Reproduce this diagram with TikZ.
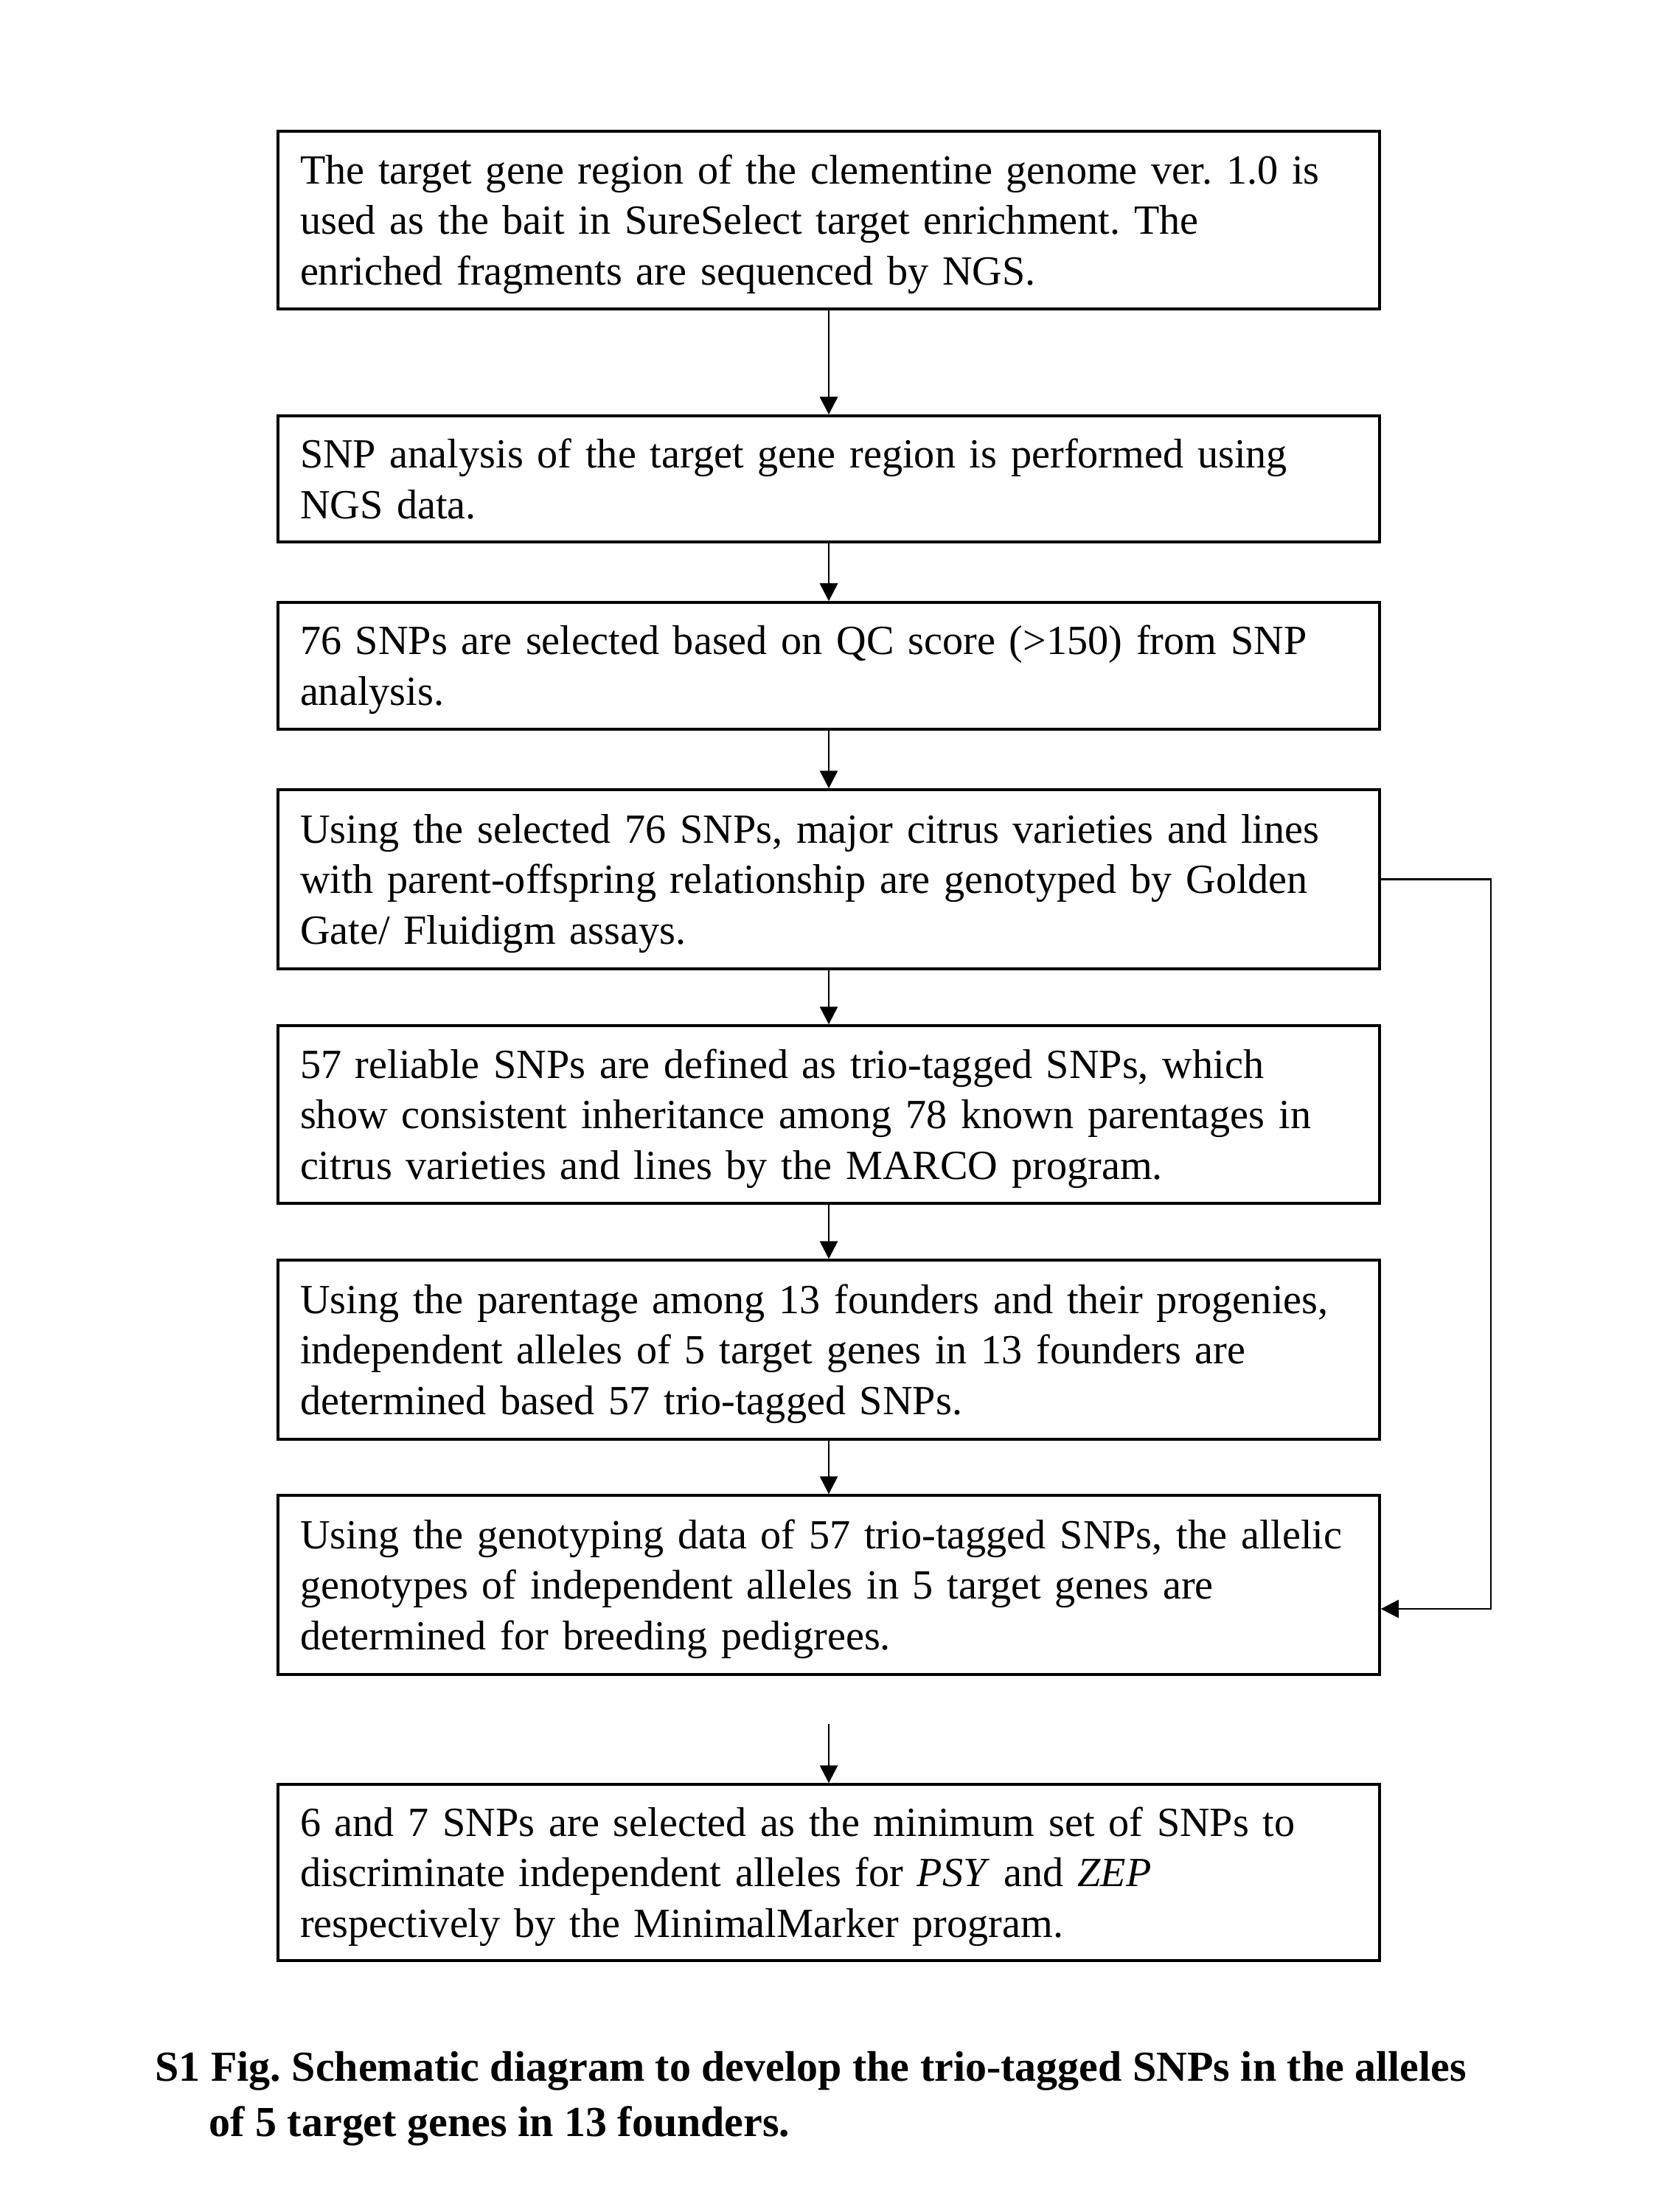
\documentclass[tikz,border=0pt]{standalone}
\usepackage{fontspec}
\setmainfont{Liberation Serif}
\usetikzlibrary{arrows.meta}

\tikzset{
  stepbox/.style={draw, line width=1pt, text width=14.34cm, inner xsep=0.3cm,
    inner ysep=0pt, align=left,
    execute at begin node={\frenchspacing\rule{0pt}{0.91em}},
    execute at end node={\rule[-0.22em]{0pt}{0pt}}},
  flow/.style={->, line width=0.8pt}
}

\begin{document}
\begin{tikzpicture}[>={Triangle[length=2.4mm, width=2.4mm]},
    font=\fontsize{16}{19.6}\selectfont]
  \useasboundingbox (0,0) rectangle (22.5,-30);
  \node[stepbox, minimum height=2.41cm] (b1) at (11.24,-2.985)
    {The target gene region of the clementine genome ver. 1.0 is\\
     used as the bait in SureSelect target enrichment. The\\
     enriched fragments are sequenced by NGS.};
  \node[stepbox, minimum height=1.71cm] (b2) at (11.24,-6.495)
    {SNP analysis of the target gene region is performed using\\
     NGS data.};
  \node[stepbox, minimum height=1.72cm] (b3) at (11.24,-9.03)
    {76 SNPs are selected based on QC score (>150) from SNP\\
     analysis.};
  \node[stepbox, minimum height=2.43cm] (b4) at (11.24,-11.925)
    {Using the selected 76 SNPs, major citrus varieties and lines\\
     with parent-offspring relationship are genotyped by Golden\\
     Gate/ Fluidigm assays.};
  \node[stepbox, minimum height=2.41cm] (b5) at (11.24,-15.115)
    {57 reliable SNPs are defined as trio-tagged SNPs, which\\
     show consistent inheritance among 78 known parentages in\\
     citrus varieties and lines by the MARCO program.};
  \node[stepbox, minimum height=2.43cm] (b6) at (11.24,-18.305)
    {Using the parentage among 13 founders and their progenies,\\
     independent alleles of 5 target genes in 13 founders are\\
     determined based 57 trio-tagged SNPs.};
  \node[stepbox, minimum height=2.43cm] (b7) at (11.24,-21.495)
    {Using the genotyping data of 57 trio-tagged SNPs, the allelic\\
     genotypes of independent alleles in 5 target genes are\\
     determined for breeding pedigrees.};
  \node[stepbox, minimum height=2.39cm] (b8) at (11.24,-25.395)
    {6 and 7 SNPs are selected as the minimum set of SNPs to\\
     discriminate independent alleles for \textit{PSY} and \textit{ZEP}\\
     respectively by the MinimalMarker program.};

  \draw[flow] (b1) -- (b2);
  \draw[flow] (b2) -- (b3);
  \draw[flow] (b3) -- (b4);
  \draw[flow] (b4) -- (b5);
  \draw[flow] (b5) -- (b6);
  \draw[flow] (b6) -- (b7);
  \coordinate (gap) at (11.24,-23.38);
  \draw[flow] (gap) -- (b8);
  % side path to the genotyping step
  \coordinate (side) at (20.22,-21.82);
  \draw[flow] (b4.east) -| (side) -- (side -| b7.east);

  \node[anchor=base west, align=left, inner sep=0pt,
    font=\fontsize{16.5}{21.3}\selectfont\bfseries\frenchspacing]
    (caption) at (2.10,-28.97)
    {S1 Fig. Schematic diagram to develop the trio-tagged SNPs in the alleles\\
     \hspace*{0.73cm}of 5 target genes in 13 founders.};
\end{tikzpicture}
\end{document}
